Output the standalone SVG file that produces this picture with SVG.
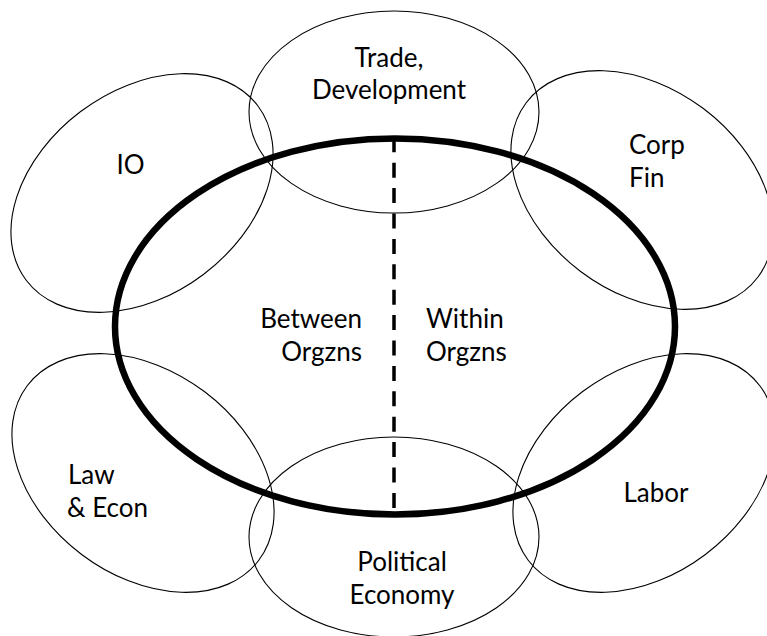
<svg xmlns="http://www.w3.org/2000/svg" width="767" height="636" viewBox="0 0 767 636">
<style>
.thin{fill:none;stroke:#000;stroke-width:1.1}
.main{fill:none;stroke:#000;stroke-width:6.5}
.div{fill:none;stroke:#000;stroke-width:3.5;stroke-dasharray:15 10.4}
text{font-family:Lato,"Liberation Sans",sans-serif;font-size:26px;fill:#000}
.c{text-anchor:middle}
.r{text-anchor:end}
</style>
<rect width="767" height="636" fill="#fff"/>
<g id="trade"><ellipse class="thin" cx="394" cy="112" rx="145" ry="101"/>
<text class="c" x="389" y="66.5">Trade,</text><text class="c" x="389" y="98.5">Development</text></g>
<g id="political"><ellipse class="thin" cx="394" cy="537" rx="145" ry="100"/>
<text class="c" x="402" y="571">Political</text><text class="c" x="402" y="603.5">Economy</text></g>
<g id="io"><ellipse class="thin" cx="142" cy="193" rx="145" ry="102" transform="rotate(-37 142 193)"/>
<text x="116.5" y="173.5">IO</text></g>
<g id="corpfin"><ellipse class="thin" cx="642" cy="190" rx="145" ry="102" transform="rotate(37 642 190)"/>
<text x="629" y="153.5">Corp</text><text x="629" y="186.5">Fin</text></g>
<g id="lawecon"><ellipse class="thin" cx="143" cy="473" rx="145" ry="102" transform="rotate(37 143 473)"/>
<text x="68" y="483.5">Law</text><text x="67" y="516.5">&amp; Econ</text></g>
<g id="labor"><ellipse class="thin" cx="644" cy="473" rx="145" ry="102" transform="rotate(-37 644 473)"/>
<text x="623.5" y="501.5">Labor</text></g>
<g id="organizations"><ellipse class="main" cx="395" cy="326.5" rx="280" ry="188"/>
<text class="r" x="362" y="327.5">Between</text><text class="r" x="362" y="360.5">Orgzns</text>
<text x="426" y="327.5">Within</text><text x="426" y="360.5">Orgzns</text></g>
<g id="connectors"><line class="div" x1="394" y1="137.3" x2="394" y2="514"/></g>
</svg>
